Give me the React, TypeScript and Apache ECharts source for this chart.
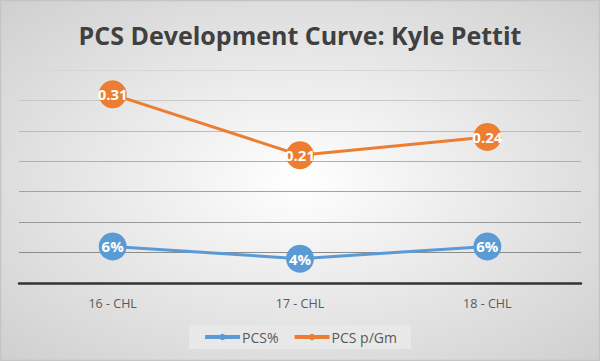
import React, { useEffect, useRef } from "react";
import * as echarts from "echarts";

const categories = ["16 - CHL", "17 - CHL", "18 - CHL"];
const pcsPct = [0.06, 0.04, 0.06];
const pcsPerGm = [0.31, 0.21, 0.24];
const seriesNames = ["PCS%", "PCS p/Gm"];
const colors = ["#5B9BD5", "#ED7D31"];

export default function App() {
  const ref = useRef<HTMLDivElement>(null);
  useEffect(() => {
    document.body.style.margin = "0";
    const chart = echarts.init(ref.current!, null, { renderer: "svg" });
    const font = "'Open Sans', 'Noto Sans', sans-serif";
    const labelStyle = {
      show: true,
      position: "inside",
      color: "#fff",
      fontWeight: "bold",
      fontSize: 15,
      fontFamily: font,
    };
    chart.setOption({
      animation: false,
      backgroundColor: new echarts.graphic.RadialGradient(0.5, 0.5, 0.75, [
        { offset: 0, color: "#ffffff" },
        { offset: 1, color: "#cccccc" },
      ]),
      graphic: [
        {
          type: "rect",
          shape: { x: 0.5, y: 0.5, width: 599, height: 360 },
          style: { fill: "none", stroke: "#c4c4c4", lineWidth: 1.5 },
          silent: true,
        },
      ],
      title: {
        text: "PCS Development Curve: Kyle Pettit",
        left: "center",
        top: 17,
        textStyle: { fontFamily: font, fontWeight: "bold", fontSize: 25, color: "#404040" },
      },
      legend: {
        bottom: 12,
        left: "center",
        itemWidth: 35,
        itemHeight: 8,
        itemGap: 14,
        padding: [5, 14],
        backgroundColor: "rgba(232,232,232,0.95)",
        lineStyle: { width: 4 },
        textStyle: { fontFamily: font, fontSize: 14, color: "#595959", padding: [0, 0, 0, -3] },
        data: seriesNames,
      },
      grid: { left: 19, right: 19, top: 70, bottom: 78 },
      xAxis: {
        type: "category",
        data: categories,
        axisLine: { lineStyle: { color: "#333333", width: 2.5 } },
        axisTick: { show: false },
        axisLabel: { fontFamily: font, fontSize: 12.5, color: "#595959", margin: 14 },
      },
      yAxis: {
        type: "value",
        min: 0,
        max: 0.35,
        interval: 0.05,
        axisLabel: { show: false },
        splitLine: {
          lineStyle: {
            color: ["#333333", "#8c8c8c", "#999999", "#a3a3a3", "#b0b0b0", "#bcbcbc", "#c9c9c9", "#d6d6d6"],
            width: 1.2,
          },
        },
      },
      series: [
        {
          name: seriesNames[0],
          type: "line",
          data: pcsPct,
          color: colors[0],
          lineStyle: { width: 3 },
          symbol: "circle",
          symbolSize: 28,
          label: { ...labelStyle, formatter: (p: any) => Math.round(p.value * 100) + "%" },
        },
        {
          name: seriesNames[1],
          type: "line",
          data: pcsPerGm,
          color: colors[1],
          lineStyle: { width: 3 },
          symbol: "circle",
          symbolSize: 28,
          label: { ...labelStyle, formatter: (p: any) => p.value.toFixed(2) },
        },
      ],
    });
    return () => chart.dispose();
  }, []);
  return <div ref={ref} style={{ position: "absolute", left: 0, top: 0, width: 600, height: 361 }} />;
}
